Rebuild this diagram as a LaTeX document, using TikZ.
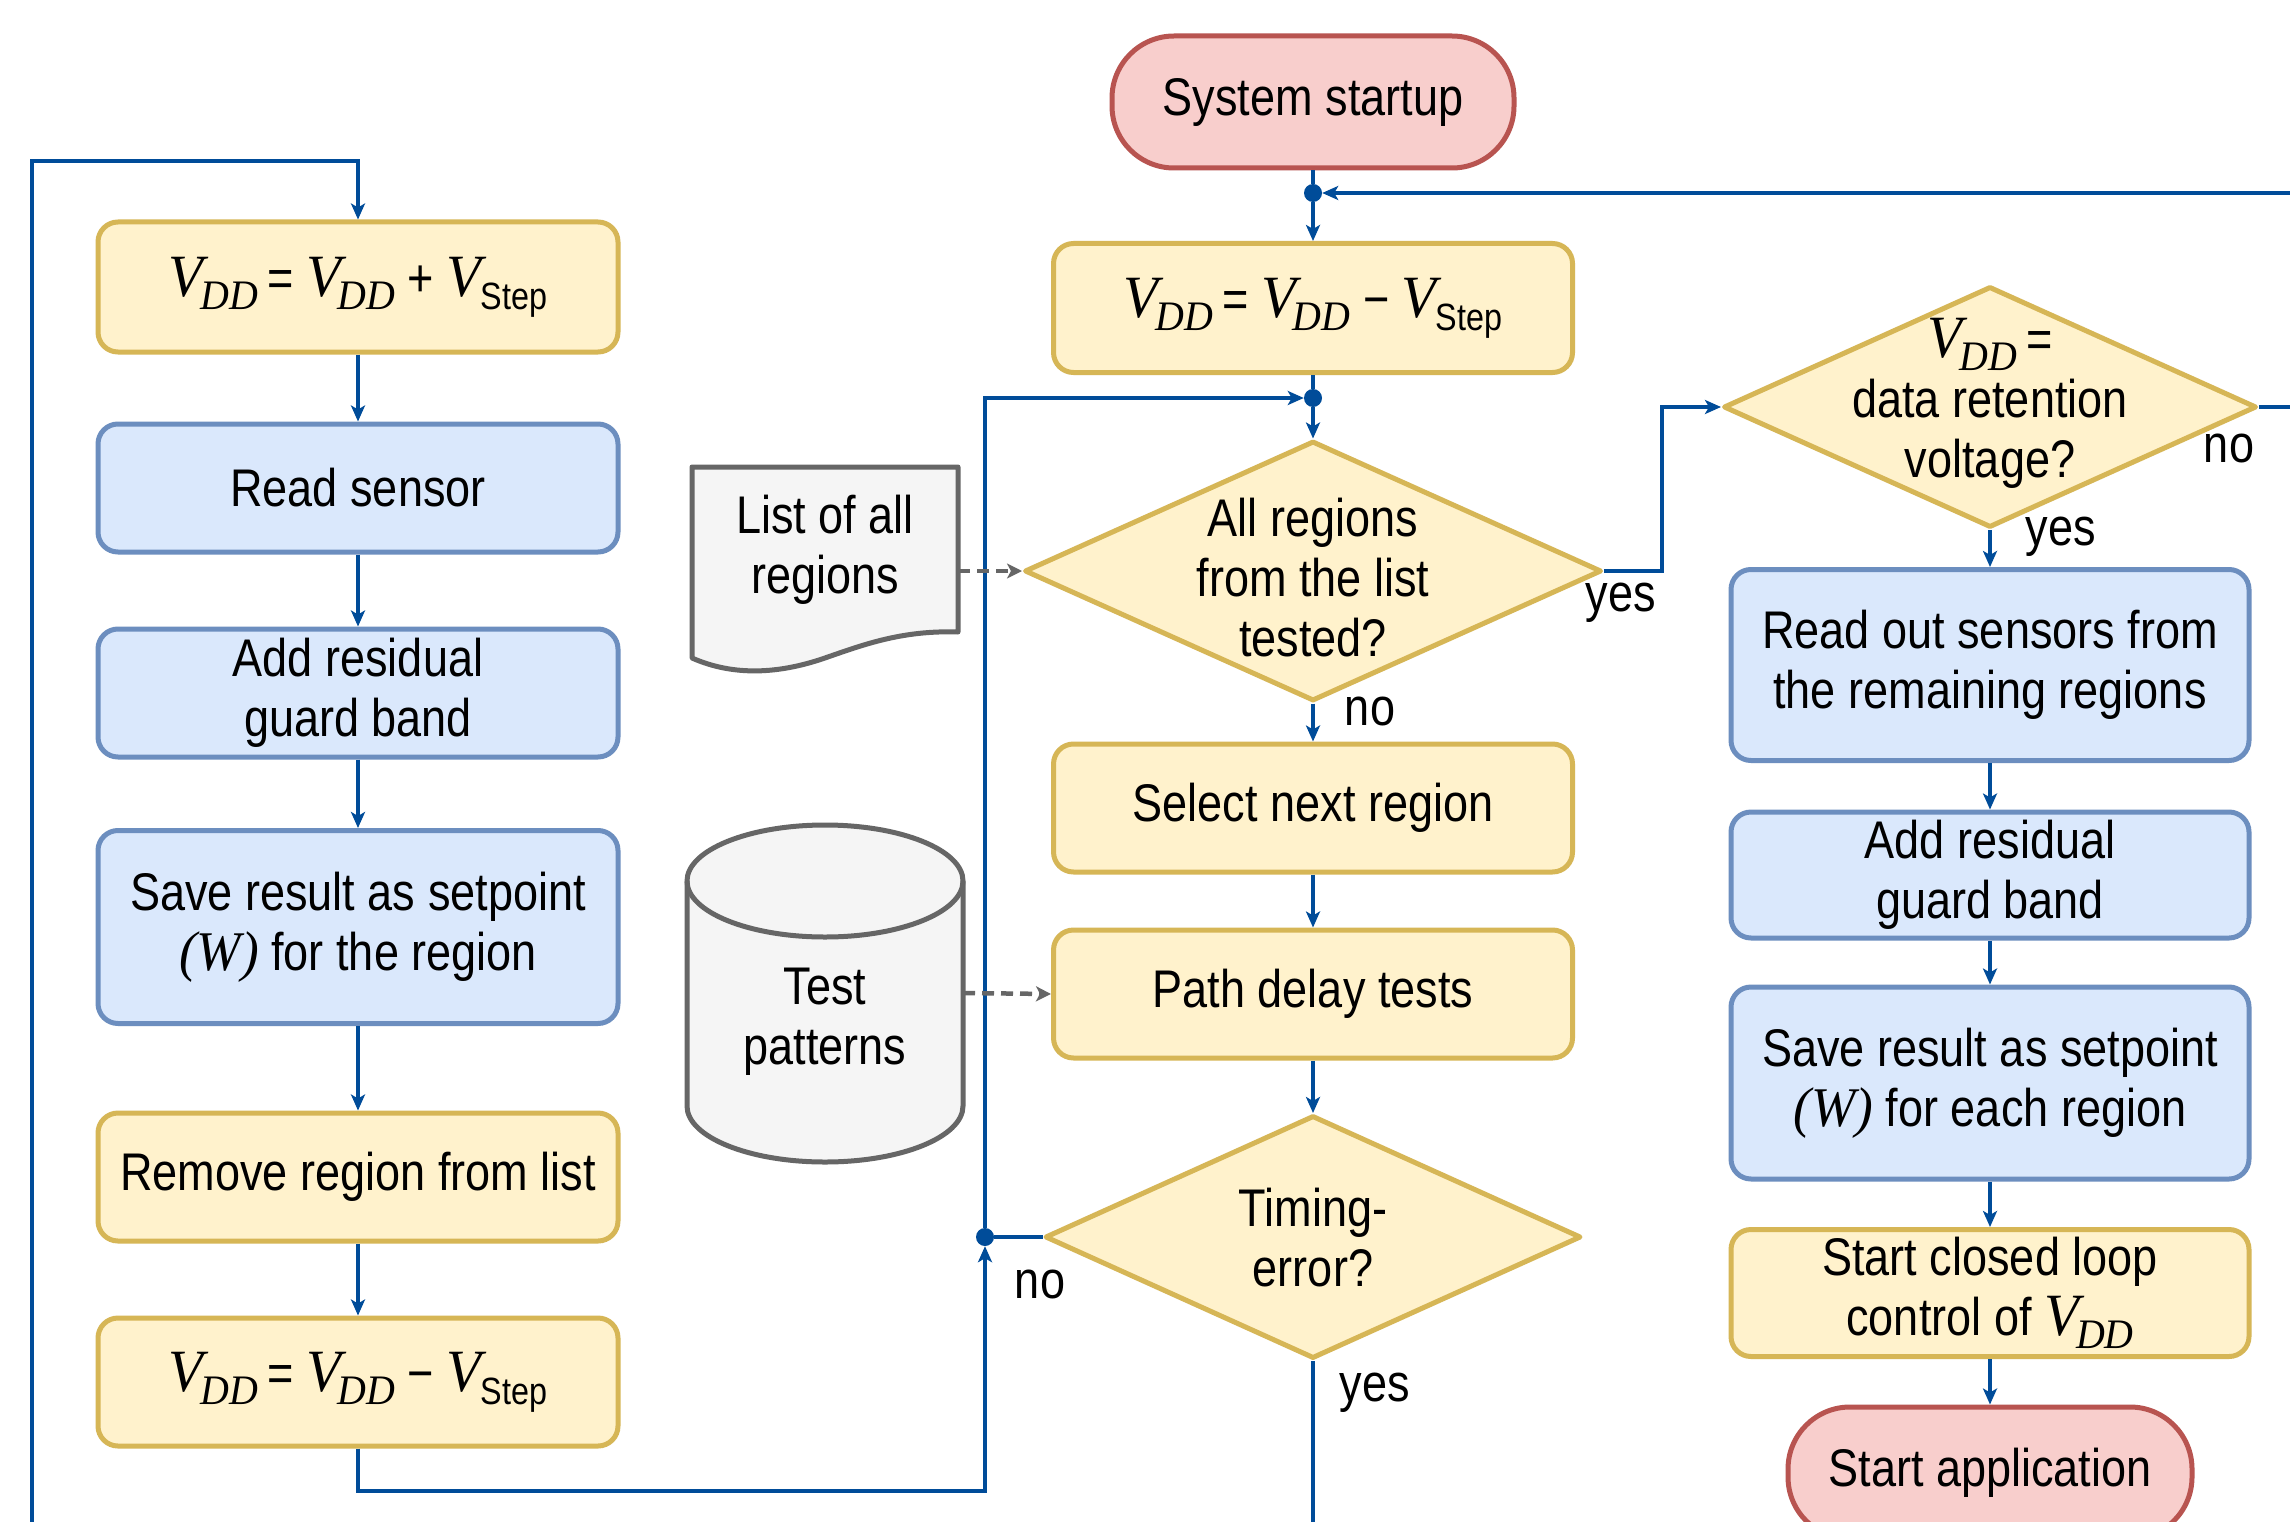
\documentclass[tikz,border=0pt]{standalone}
\usepackage{fontspec}
\setmainfont{Liberation Sans}[FakeStretch=0.85]
\newfontfamily\tms{Liberation Serif}[FakeStretch=0.95]
\usetikzlibrary{shapes.geometric,arrows.meta}
\definecolor{yfill}{HTML}{FFF2CC}
\definecolor{ystroke}{HTML}{D6B656}
\definecolor{bfill}{HTML}{DAE8FC}
\definecolor{bstroke}{HTML}{6C8EBF}
\definecolor{pfill}{HTML}{F8CECC}
\definecolor{pstroke}{HTML}{B85450}
\definecolor{gfill}{HTML}{F5F5F5}
\definecolor{gstroke}{HTML}{666666}
\definecolor{lblue}{HTML}{004C99}
\newcommand{\VDD}{{\tms\itshape\fontsize{60}{60}\selectfont V\kern-3pt\raisebox{-13pt}{\fontsize{42}{42}\selectfont DD}}}
\newcommand{\VSt}{{\tms\itshape\fontsize{60}{60}\selectfont V}\kern-1pt\raisebox{-13pt}{\fontsize{38}{40}\selectfont Step}}
\begin{document}
\begin{tikzpicture}[x=1pt,y=-1pt, font=\fontsize{53}{60}\selectfont,
 conn/.style={draw=lblue, line width=3.5pt},
 arr/.style={conn, -{Stealth[length=16pt,width=14pt,inset=4pt]}},
 dconn/.style={draw=gstroke, line width=4.5pt, dash pattern=on 12pt off 7pt, -{Stealth[length=15pt,width=15pt,inset=4pt]}},
 yproc/.style={rectangle, rounded corners=20pt, draw=ystroke, fill=yfill, line width=5pt, minimum width=520pt, minimum height=128pt, align=center, inner sep=0pt},
 bproc/.style={yproc, draw=bstroke, fill=bfill},
 term/.style={rectangle, rounded corners=62pt, draw=pstroke, fill=pfill, line width=5pt, minimum width=402pt, minimum height=132pt, align=center},
 dec/.style={diamond, draw=ystroke, fill=yfill, line width=5pt, inner sep=0pt, line join=round},
 dot/.style={circle, fill=lblue, inner sep=0pt, minimum size=18pt},
 txt/.style={align=center, inner sep=0pt},
 lbl/.style={inner sep=0pt}]
\path[use as bounding box] (0,0) rectangle (2290,1522);
\clip (0,0) rectangle (2290,1522);
\fill[white] (0,0) rectangle (2290,1522);

% left column
\node[yproc, minimum height=130pt] (b1) at (358,287) {\VDD\,= \VDD{} + \VSt};
\node[bproc] (b2) at (358,488) {Read sensor};
\node[bproc] (b3) at (358,693) {Add residual\\guard band};
\node[bproc, minimum height=193pt] (b4) at (358,927) {Save result as setpoint\\{\tms\itshape\fontsize{56}{60}\selectfont (W)} for the region};
\node[yproc] (b5) at (358,1177) {Remove region from list};
\node[yproc] (b6) at (358,1382) {\VDD\,= \VDD{} − \VSt};

% middle column
\node[term] (st) at (1313,102) {System startup};
\node[dot] (p1) at (1313,193) {};
\node[yproc, minimum width=519pt, minimum height=129pt] (c1) at (1313,308) {\VDD\,= \VDD{} − \VSt};
\node[dot] (p2) at (1313,398) {};
\node[dec, minimum width=577pt, minimum height=260pt] (d1) at (1313,571) {};
\node[txt] (d1t) at (1313,578) {All regions\\from the list\\tested?};
\node[yproc, minimum width=519pt] (c2) at (1313,808) {Select next region};
\node[yproc, minimum width=519pt] (c3) at (1313,994) {Path delay tests};
\node[dec, minimum width=536pt, minimum height=243pt] (d2) at (1313,1237) {};
\node[txt] (d2t) at (1313,1238) {Timing-\\error?};
\node[dot] (p3) at (985,1237) {};

% data stores
\path[fill=gfill, draw=gstroke, line width=5pt, line join=round]
  (692,467) -- (958,467) -- (958,632)
  .. controls (900,630) and (860,646) .. (822,659)
  .. controls (780,673) and (735,677) .. (692,658) -- cycle;
\node[txt] (doct) at (825,550) {List of all\\regions};
\coordinate (docR) at (958,571);

\path[fill=gfill, draw=gstroke, line width=5pt]
  (687,881) -- (687,1106) arc[start angle=180, end angle=360, x radius=138pt, y radius=56pt]
  -- (963,881) arc[start angle=0, end angle=180, x radius=138pt, y radius=56pt] -- cycle;
\draw[gstroke, line width=5pt] (687,881) arc[start angle=180, end angle=360, x radius=138pt, y radius=56pt];
\node[txt] (cylt) at (825,1022) {Test\\patterns};
\coordinate (cylR) at (963,993);

% right column
\node[dec, minimum width=533pt, minimum height=241pt] (d3) at (1990,407) {};
\node[txt] (d3t) at (1990,403) {\VDD\,=\\data retention\\voltage?};
\node[bproc, minimum width=518pt, minimum height=191pt] (r1) at (1990,665) {Read out sensors from\\the remaining regions};
\node[bproc, minimum width=518pt, minimum height=126pt] (r2) at (1990,875) {Add residual\\guard band};
\node[bproc, minimum width=518pt, minimum height=192pt] (r3) at (1990,1083) {Save result as setpoint\\{\tms\itshape\fontsize{56}{60}\selectfont (W)} for each region};
\node[yproc, minimum width=518pt, minimum height=127pt] (r4) at (1990,1293) {Start closed loop\\control of \VDD};
\node[term, minimum width=404pt] (r5) at (1990,1473) {Start application};

% labels
\node[lbl] (l1) at (1370,711) {no};
\node[lbl] (l2) at (1621,603) {yes};
\node[lbl] (l3) at (2061,537) {yes};
\node[lbl] (l4) at (2229,448) {no};
\node[lbl] (l5) at (1040,1284) {no};
\node[lbl] (l6) at (1375,1393) {yes};

% coordinates for free ends
\coordinate (e1) at (2290,193);
\coordinate (e2) at (32,1522);
\coordinate (ltop) at (32,161);
\coordinate (e3) at (1313,1522);
\coordinate (e4) at (2290,407);
\coordinate (lb) at (985,1491);
\coordinate (j1) at (1662,407);

% connectors
\draw[arr] (e1) -- (p1);
\draw[conn] (st) -- (p1);
\draw[arr] (p1) -- (c1);
\draw[conn] (c1) -- (p2);
\draw[arr] (p2) -- (d1);
\draw[arr] (d1) -- (c2);
\draw[arr] (c2) -- (c3);
\draw[arr] (c3) -- (d2);
\draw[conn] (d2.west) -- (p3);
\draw[conn] (d2.south) -- (e3);
\draw[arr] (b6.south) |- (lb) -- (p3);
\draw[arr] (p3) |- (p2);
\draw[arr] (e2) -- (ltop) -| (b1.north);
\draw[arr] (b1) -- (b2);
\draw[arr] (b2) -- (b3);
\draw[arr] (b3) -- (b4);
\draw[arr] (b4) -- (b5);
\draw[arr] (b5) -- (b6);
\draw[arr] (d1.east) -| (j1) -- (d3.west);
\draw[conn] (d3.east) -- (e4);
\draw[arr] (d3) -- (r1);
\draw[arr] (r1) -- (r2);
\draw[arr] (r2) -- (r3);
\draw[arr] (r3) -- (r4);
\draw[arr] (r4) -- (r5);
\draw[dconn] (docR) -- (d1.west);
\draw[dconn] (cylR) -- (c3.west);
\end{tikzpicture}
\end{document}
